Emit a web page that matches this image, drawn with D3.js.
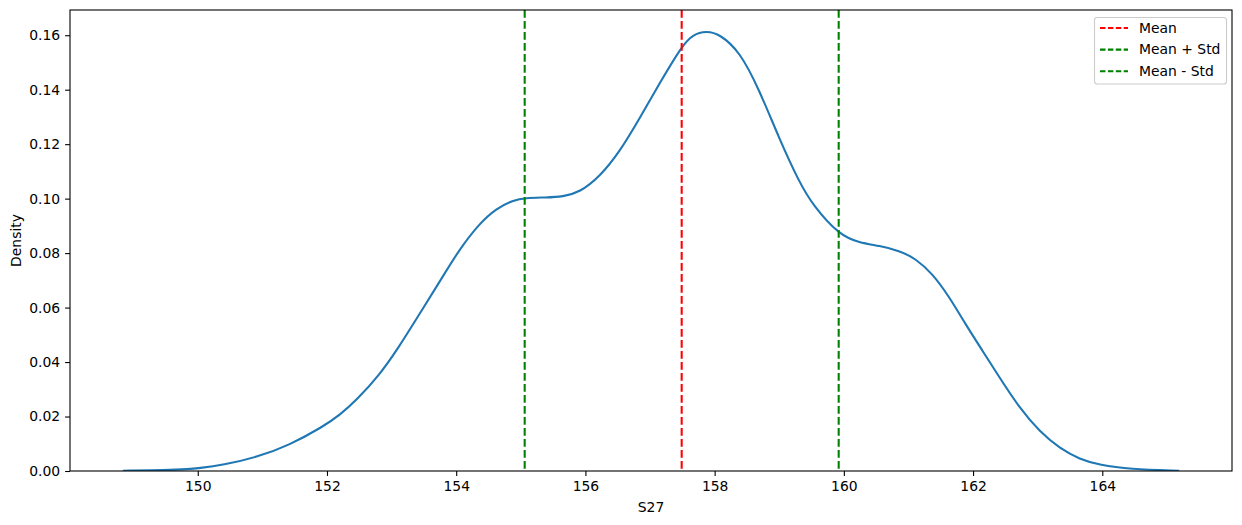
<!DOCTYPE html>
<html>
<head>
<meta charset="utf-8">
<script src="https://cdn.jsdelivr.net/npm/d3@7"></script>
<style>
  html, body { margin: 0; padding: 0; background: #fff; }
  svg { display: block; font-family: "DejaVu Sans", sans-serif; }
</style>
</head>
<body>
<svg id="chart" width="1242" height="525"></svg>
<script>
// ---- data ----
const kdeX = [148.84, 149.5, 149.87, 150.0, 150.39, 150.91, 151.42, 151.94, 152.2, 152.46,
  152.81, 153.1, 153.42, 153.75, 154.04, 154.36, 154.62, 154.88, 155.07, 155.39,
  155.65, 155.91, 156.22, 156.53, 156.84, 157.15, 157.5, 157.66, 157.87, 158.08,
  158.39, 158.69, 159.0, 159.31, 159.52, 159.93, 160.24, 160.55, 160.86, 161.11,
  161.37, 161.63, 161.89, 162.15, 162.41, 162.72, 163.03, 163.34, 163.65, 163.96,
  164.42, 165.19];
const kdeY = [0.0001, 0.0003, 0.0007, 0.0010, 0.0022, 0.0050, 0.0095, 0.0163, 0.0206, 0.0261,
  0.0352, 0.0450, 0.0572, 0.0697, 0.0811, 0.0909, 0.0964, 0.0994, 0.1003, 0.1004,
  0.1007, 0.1023, 0.1080, 0.1172, 0.1295, 0.1425, 0.1563, 0.1602, 0.1616, 0.1604,
  0.1540, 0.1400, 0.1220, 0.1060, 0.0976, 0.0866, 0.0838, 0.0827, 0.0809, 0.0780,
  0.0725, 0.0640, 0.0536, 0.0440, 0.0343, 0.0231, 0.0144, 0.0083, 0.0043, 0.0022,
  0.0007, 0.0001];
const refNames = ["Mean", "Mean + Std", "Mean - Std"];
const refValues = [157.49, 159.92, 155.06];
const refColors = ["#ff0000", "#008000", "#008000"];
const xTicks = [150, 152, 154, 156, 158, 160, 162, 164];
const yTicks = [0.00, 0.02, 0.04, 0.06, 0.08, 0.10, 0.12, 0.14, 0.16];
const xLabel = "S27";
const yLabel = "Density";

// ---- layout ----
const L = 70, R = 1232, T = 10, B = 471;
const svg = d3.select("#chart");
const fs = 13.9;

const xMin = d3.min(kdeX), xMax = d3.max(kdeX);
const xm = (xMax - xMin) * 0.05;
const x = d3.scaleLinear().domain([xMin - xm, xMax + xm]).range([L, R]);
const yMax = 0.1612 * 1.05;
const y = d3.scaleLinear().domain([0, yMax]).range([B, T]);

svg.append("defs").append("clipPath").attr("id", "clip")
  .append("rect").attr("x", L).attr("y", T).attr("width", R - L).attr("height", B - T);

const plot = svg.append("g").attr("clip-path", "url(#clip)");

// KDE curve
const pts = kdeX.map((v, i) => [v, kdeY[i]]);
plot.append("path")
  .datum(pts)
  .attr("fill", "none")
  .attr("stroke", "#1f77b4")
  .attr("stroke-width", 2.08)
  .attr("stroke-linejoin", "round")
  .attr("stroke-linecap", "butt")
  .attr("d", d3.line().x(d => x(d[0])).y(d => y(d[1])).curve(d3.curveBasis));

// reference vertical lines
refValues.forEach((v, i) => {
  plot.append("line")
    .attr("x1", x(v)).attr("x2", x(v))
    .attr("y1", T).attr("y2", B)
    .attr("stroke", refColors[i])
    .attr("stroke-width", 2.08)
    .attr("stroke-dasharray", "7.7,3.3");
});

// axes
const xAxis = d3.axisBottom(x).tickValues(xTicks).tickFormat(d3.format("d"))
  .tickSize(4.9).tickPadding(4.9);
const gx = svg.append("g").attr("transform", `translate(0,${B})`).call(xAxis);
const yAxis = d3.axisLeft(y).tickValues(yTicks).tickFormat(d3.format(".2f"))
  .tickSize(4.9).tickPadding(4.9);
const gy = svg.append("g").attr("transform", `translate(${L},0)`).call(yAxis);
[gx, gy].forEach(g => {
  g.select(".domain").remove();
  g.selectAll(".tick line").attr("stroke", "#000").attr("stroke-width", 1.1);
  g.selectAll(".tick text").attr("fill", "#000").style("font-size", fs + "px")
    .style("font-family", "DejaVu Sans");
});

// frame
svg.append("rect").attr("x", L).attr("y", T).attr("width", R - L).attr("height", B - T)
  .attr("fill", "none").attr("stroke", "#000").attr("stroke-width", 1.1);

// axis labels
svg.append("text").attr("x", (L + R) / 2).attr("y", 512)
  .attr("text-anchor", "middle").style("font-size", fs + "px").text(xLabel);
svg.append("text")
  .attr("transform", `translate(21,${(T + B) / 2}) rotate(-90)`)
  .attr("text-anchor", "middle").style("font-size", fs + "px").text(yLabel);

// legend
const lg = svg.append("g");
lg.append("rect").attr("x", 1094.5).attr("y", 17.5).attr("width", 132).attr("height", 66.5)
  .attr("rx", 2.8).attr("fill", "#fff").attr("fill-opacity", 0.8)
  .attr("stroke", "#cccccc").attr("stroke-width", 1.1);
refNames.forEach((n, i) => {
  const yy = 28 + i * 21.6;
  lg.append("line").attr("x1", 1100).attr("x2", 1128).attr("y1", yy).attr("y2", yy)
    .attr("stroke", refColors[i]).attr("stroke-width", 2.08).attr("stroke-dasharray", "5.5,2.4");
  lg.append("text").attr("x", 1139).attr("y", yy).attr("dy", "0.35em")
    .style("font-size", fs + "px").text(n);
});
</script>
</body>
</html>
